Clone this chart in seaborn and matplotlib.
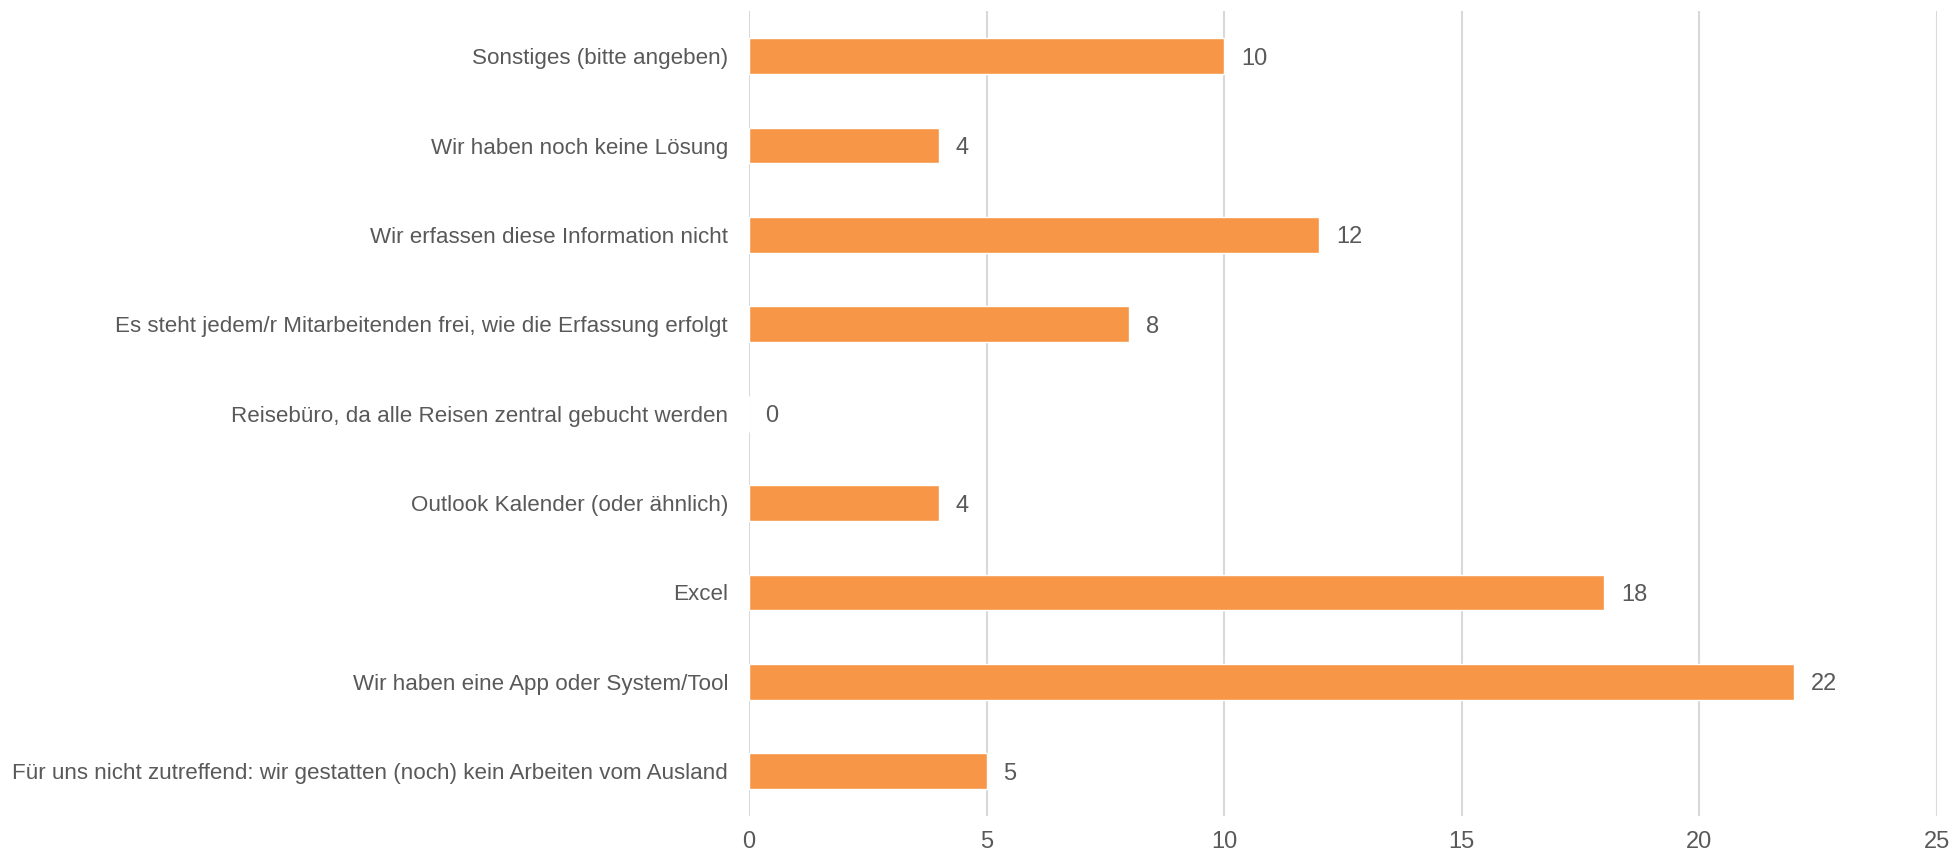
import matplotlib
matplotlib.use("Agg")
import matplotlib.pyplot as plt
import seaborn as sns
import pandas as pd

categories = [
    "Sonstiges (bitte angeben)",
    "Wir haben noch keine Lösung",
    "Wir erfassen diese Information nicht",
    "Es steht jedem/r Mitarbeitenden frei, wie die Erfassung erfolgt",
    "Reisebüro, da alle Reisen zentral gebucht werden",
    "Outlook Kalender (oder ähnlich)",
    "Excel",
    "Wir haben eine App oder System/Tool",
    "Für uns nicht zutreffend: wir gestatten (noch) kein Arbeiten vom Ausland",
]
values = [10, 4, 12, 8, 0, 4, 18, 22, 5]
x_ticks = [0, 5, 10, 15, 20, 25]

sns.set_theme(style="white")
plt.rcParams["font.family"] = ["Liberation Sans", "DejaVu Sans"]

text_color = "#595959"
grid_color = "#d9d9d9"
bar_color = "#F79646"

df = pd.DataFrame({"Kategorie": categories, "Anzahl": values})

fig = plt.figure(figsize=(19.57, 8.58), dpi=100)
ax = fig.add_axes([0.3827, 0.049, 0.6071, 0.9376])

sns.barplot(data=df, x="Anzahl", y="Kategorie", orient="h", color=bar_color,
            saturation=1, width=0.4, ax=ax)

ax.set_xlim(0, 25)
ax.set_ylim(8.5, -0.5)
ax.set_xticks(x_ticks)
ax.set_xlabel("")
ax.set_ylabel("")

ax.grid(axis="x", color=grid_color, linewidth=1.5)
ax.grid(axis="y", visible=False)
ax.set_axisbelow(True)
for s in ax.spines.values():
    s.set_visible(False)

ax.tick_params(axis="x", length=0, pad=11, labelsize=17, labelcolor=text_color)
ax.tick_params(axis="y", length=0, pad=15, labelsize=16.1, labelcolor=text_color)

for cont in ax.containers:
    lbls = ax.bar_label(cont, labels=[str(v) for v in values], padding=12,
                        fontsize=17, color=text_color)
    for t in lbls:
        t.set_verticalalignment("center_baseline")

fig.savefig("out.png", dpi=100)
